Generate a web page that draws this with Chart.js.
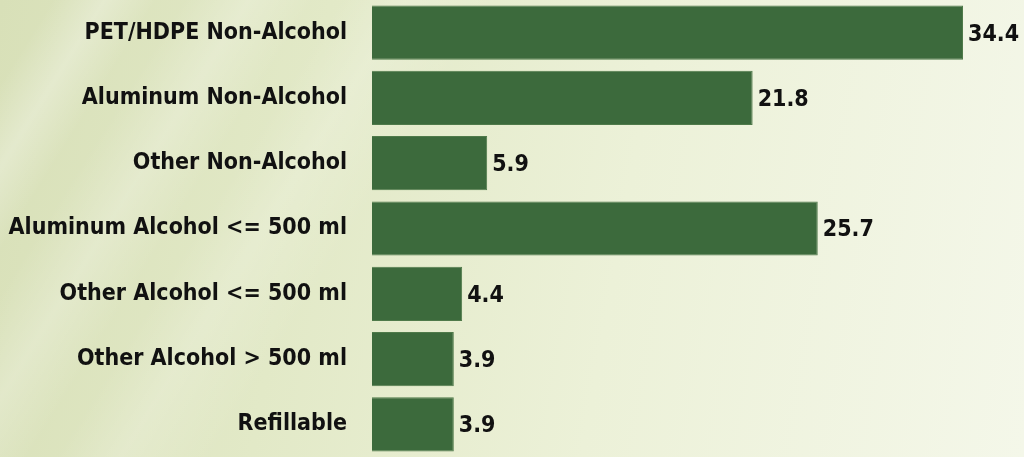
<!DOCTYPE html>
<html>
<head>
<meta charset="utf-8">
<script src="https://cdn.jsdelivr.net/npm/chart.js@4/dist/chart.umd.min.js"></script>
<style>
    html, body { margin: 0; padding: 0; }
    body {
        width: 1024px; height: 457px; overflow: hidden;
        background:
            linear-gradient(122deg, rgba(255,255,255,0) 4%, rgba(255,255,255,0.28) 8%, rgba(255,255,255,0) 12%),
            linear-gradient(122deg, rgba(255,255,255,0) 14%, rgba(255,255,255,0.22) 19%, rgba(255,255,255,0) 24%),
            linear-gradient(122deg, rgba(255,255,255,0) 26%, rgba(255,255,255,0.18) 31%, rgba(255,255,255,0) 38%),
            linear-gradient(100deg, #d8e0b8 0%, #e2e9c7 30%, #ecf1d8 60%, #f4f7e9 100%);
    }
    canvas { position: absolute; left: 0; top: 0; }
</style>
</head>
<body>
<canvas id="myChart" width="1024" height="457"></canvas>
<script>
// containers by share (%)
const categories = [
    'PET/HDPE Non-Alcohol',
    'Aluminum Non-Alcohol',
    'Other Non-Alcohol',
    'Aluminum Alcohol <= 500 ml',
    'Other Alcohol <= 500 ml',
    'Other Alcohol > 500 ml',
    'Refillable'
];
const shares = [34.4, 21.8, 5.9, 25.7, 4.4, 3.9, 3.9];

const labelFont = '"Liberation Sans Narrow", "DejaVu Sans Condensed", sans-serif';

// write the value just past the end of each bar
const valueLabels = {
    id: 'valueLabels',
    afterDatasetsDraw(chart) {
        const ctx = chart.ctx;
        const meta = chart.getDatasetMeta(0);
        ctx.save();
        ctx.font = 'bold 23px ' + labelFont;
        ctx.fillStyle = '#111';
        ctx.textAlign = 'left';
        ctx.textBaseline = 'middle';
        meta.data.forEach((bar, i) => {
            ctx.fillText(shares[i].toFixed(1), bar.x + 5, bar.y + 2);
        });
        ctx.restore();
    }
};

let ctx = document.getElementById('myChart').getContext('2d');
let myChart = new Chart(ctx, {
    type: 'bar',
    data: {
        labels: categories,
        datasets: [{
            data: shares,
            base: -1,
            backgroundColor: '#3c6a3c',
            borderColor: '#4f7a4a',
            borderWidth: 1,
            barPercentage: 0.83,
            categoryPercentage: 1
        }]
    },
    options: {
        indexAxis: 'y',
        responsive: false,
        maintainAspectRatio: false,
        animation: false,
        devicePixelRatio: 1,
        layout: { padding: { left: 0, right: 61, top: 0, bottom: 0 } },
        plugins: { legend: { display: false }, tooltip: { enabled: false } },
        scales: {
            x: {
                display: false,
                min: -1,
                max: 34.4
            },
            y: {
                grid: { display: false },
                border: { display: false },
                afterFit(scale) {
                    scale.width = 372;
                    scale.paddingTop = 0;
                    scale.paddingBottom = 0;
                },
                ticks: {
                    color: '#111',
                    padding: 17,
                    font: { family: labelFont, size: 23, weight: 'bold' }
                }
            }
        }
    },
    plugins: [valueLabels]
});
</script>
</body>
</html>
